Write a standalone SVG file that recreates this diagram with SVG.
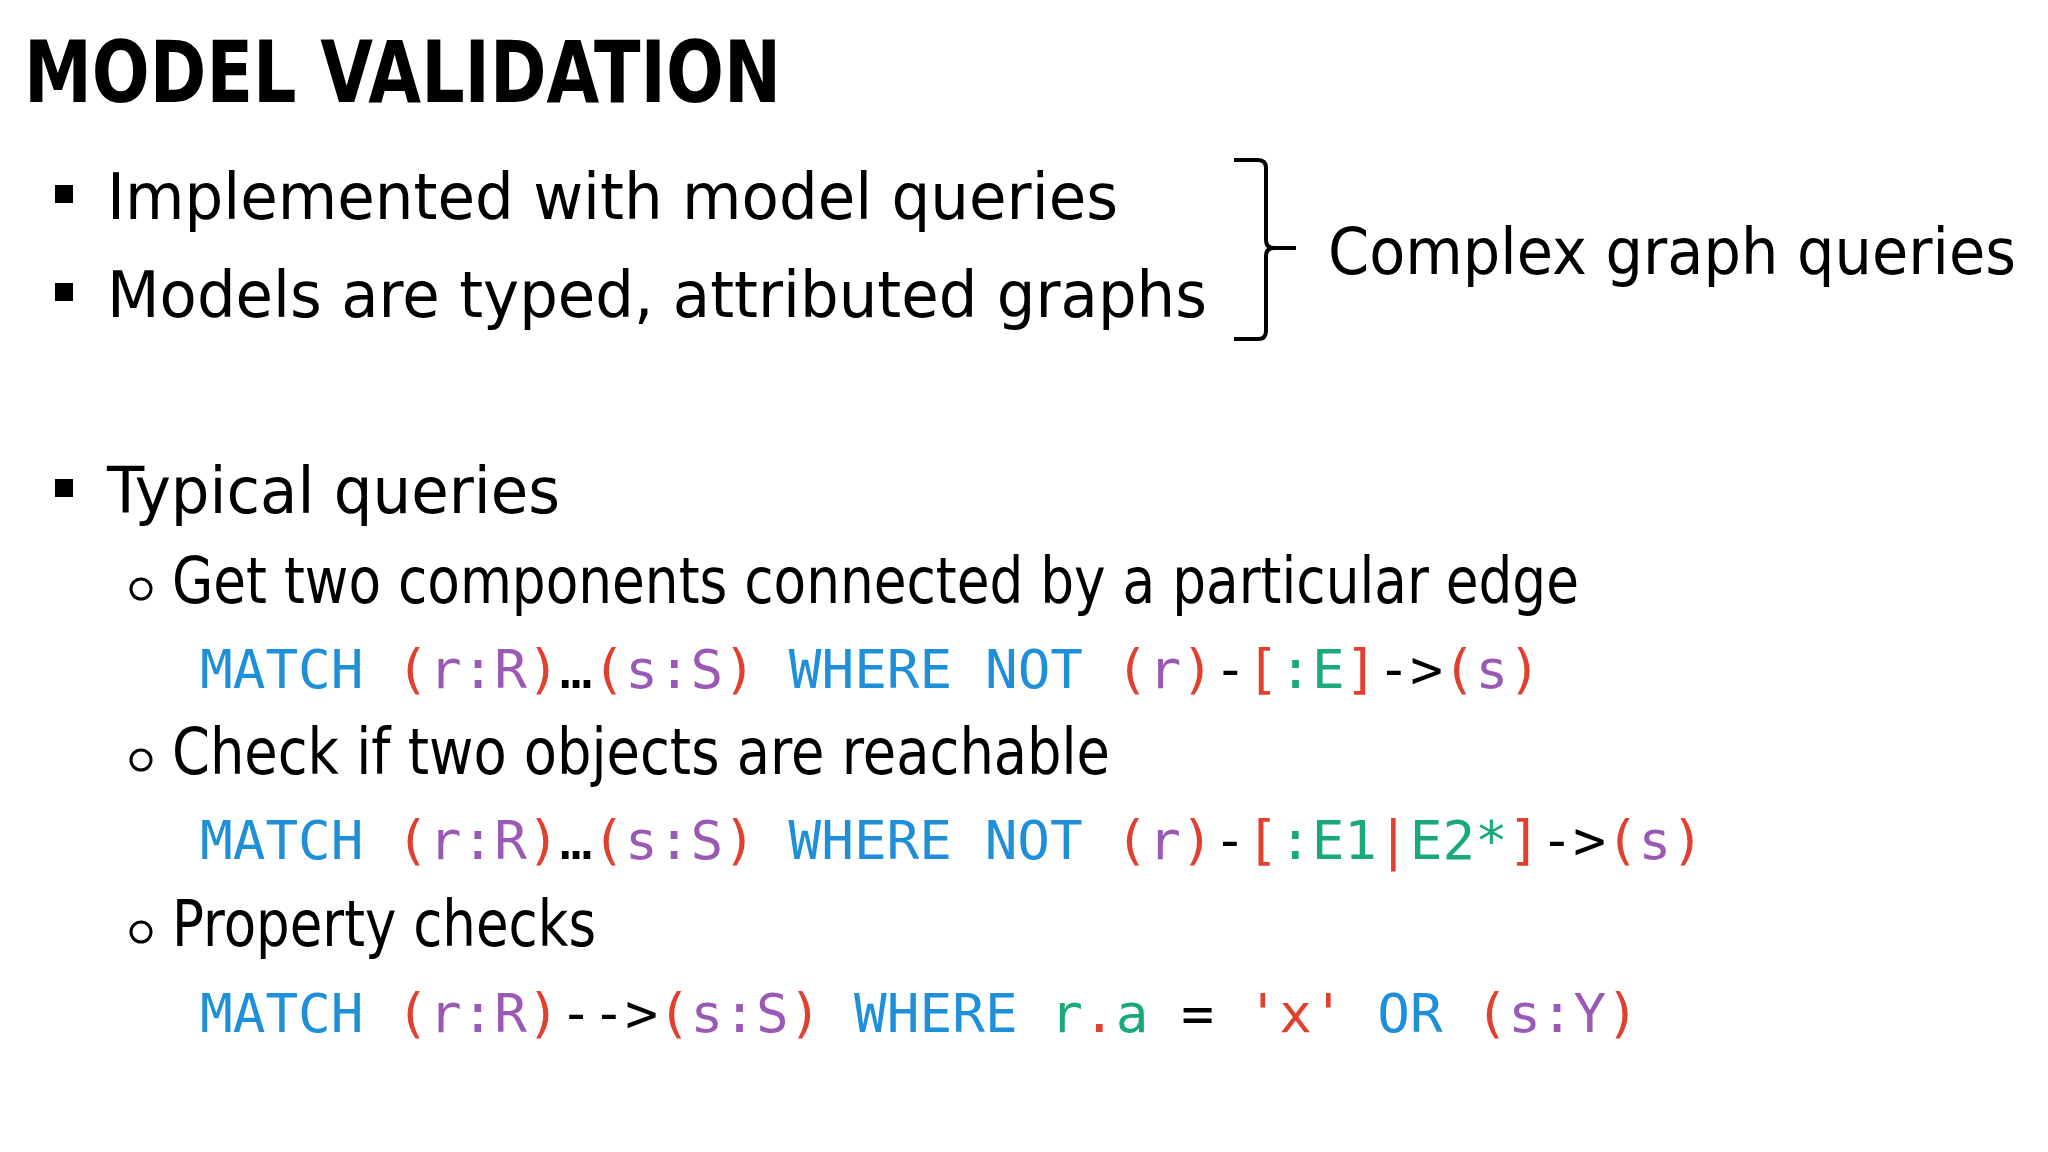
<svg xmlns="http://www.w3.org/2000/svg" width="2048" height="1152" viewBox="0 0 2048 1152">
<style>
.t{font-family:"DejaVu Sans","Liberation Sans",sans-serif;fill:#000;font-size:64px}
.h{font-family:"DejaVu Sans","Liberation Sans",sans-serif;font-weight:bold;font-size:86px;fill:#000}
.c{font-family:"DejaVu Sans Mono","Liberation Mono",monospace;font-size:54px;fill:#000}
.b{fill:#1e8fd8}.r{fill:#e2402f}.p{fill:#9b59b6}.g{fill:#1aa97a}.k{fill:#000}
</style>
<rect width="2048" height="1152" fill="#fff"/>
<g id="title"><text class="h" x="24" y="102" textLength="757" lengthAdjust="spacingAndGlyphs">MODEL VALIDATION</text></g>
<g id="bullets">
<rect x="55" y="185" width="18" height="18"/>
<text class="t" x="107" y="219" textLength="1011" lengthAdjust="spacingAndGlyphs">Implemented with model queries</text>
<rect x="55" y="283" width="18" height="18"/>
<text class="t" x="107" y="317" textLength="1100" lengthAdjust="spacingAndGlyphs">Models are typed, attributed graphs</text>
<rect x="55" y="479" width="18" height="18"/>
<text class="t" x="107" y="513" textLength="453" lengthAdjust="spacingAndGlyphs">Typical queries</text>
</g>
<g id="brace">
<path d="M1234 160 H1258 Q1266 160 1266 168 V240 Q1266 248 1274 248 H1296 M1274 248 Q1266 248 1266 256 V331 Q1266 339 1258 339 H1234" fill="none" stroke="#000" stroke-width="4"/>
<text class="t" x="1328" y="274" font-size="58" textLength="688" lengthAdjust="spacingAndGlyphs">Complex graph queries</text>
</g>
<g id="sub">
<circle cx="141" cy="589" r="10" fill="none" stroke="#000" stroke-width="3"/>
<text class="t" x="172" y="603" font-size="60" textLength="1407" lengthAdjust="spacingAndGlyphs">Get two components connected by a particular edge</text>
<circle cx="141" cy="760" r="10" fill="none" stroke="#000" stroke-width="3"/>
<text class="t" x="172" y="774" font-size="60" textLength="938" lengthAdjust="spacingAndGlyphs">Check if two objects are reachable</text>
<circle cx="141" cy="932" r="10" fill="none" stroke="#000" stroke-width="3"/>
<text class="t" x="172" y="946" font-size="60" textLength="424" lengthAdjust="spacingAndGlyphs">Property checks</text>
</g>
<g id="code">
<text class="c" x="200" y="688" xml:space="preserve" textLength="1341" lengthAdjust="spacingAndGlyphs"><tspan class="b">MATCH</tspan> <tspan class="r">(</tspan><tspan class="p">r:R</tspan><tspan class="r">)</tspan><tspan class="k">…</tspan><tspan class="r">(</tspan><tspan class="p">s:S</tspan><tspan class="r">)</tspan> <tspan class="b">WHERE NOT</tspan> <tspan class="r">(</tspan><tspan class="p">r</tspan><tspan class="r">)</tspan><tspan class="k">-</tspan><tspan class="r">[</tspan><tspan class="g">:E</tspan><tspan class="r">]</tspan><tspan class="k">-&gt;</tspan><tspan class="r">(</tspan><tspan class="p">s</tspan><tspan class="r">)</tspan></text>
<text class="c" x="200" y="859" xml:space="preserve" textLength="1504" lengthAdjust="spacingAndGlyphs"><tspan class="b">MATCH</tspan> <tspan class="r">(</tspan><tspan class="p">r:R</tspan><tspan class="r">)</tspan><tspan class="k">…</tspan><tspan class="r">(</tspan><tspan class="p">s:S</tspan><tspan class="r">)</tspan> <tspan class="b">WHERE NOT</tspan> <tspan class="r">(</tspan><tspan class="p">r</tspan><tspan class="r">)</tspan><tspan class="k">-</tspan><tspan class="r">[</tspan><tspan class="g">:E1</tspan><tspan class="r">|</tspan><tspan class="g">E2*</tspan><tspan class="r">]</tspan><tspan class="k">-&gt;</tspan><tspan class="r">(</tspan><tspan class="p">s</tspan><tspan class="r">)</tspan></text>
<text class="c" x="200" y="1032" xml:space="preserve" textLength="1439" lengthAdjust="spacingAndGlyphs"><tspan class="b">MATCH</tspan> <tspan class="r">(</tspan><tspan class="p">r:R</tspan><tspan class="r">)</tspan><tspan class="k">--&gt;</tspan><tspan class="r">(</tspan><tspan class="p">s:S</tspan><tspan class="r">)</tspan> <tspan class="b">WHERE</tspan> <tspan class="g">r</tspan><tspan class="r">.</tspan><tspan class="g">a</tspan> <tspan class="k">=</tspan> <tspan class="r">'x'</tspan> <tspan class="b">OR</tspan> <tspan class="r">(</tspan><tspan class="p">s:Y</tspan><tspan class="r">)</tspan></text>
</g>
</svg>
